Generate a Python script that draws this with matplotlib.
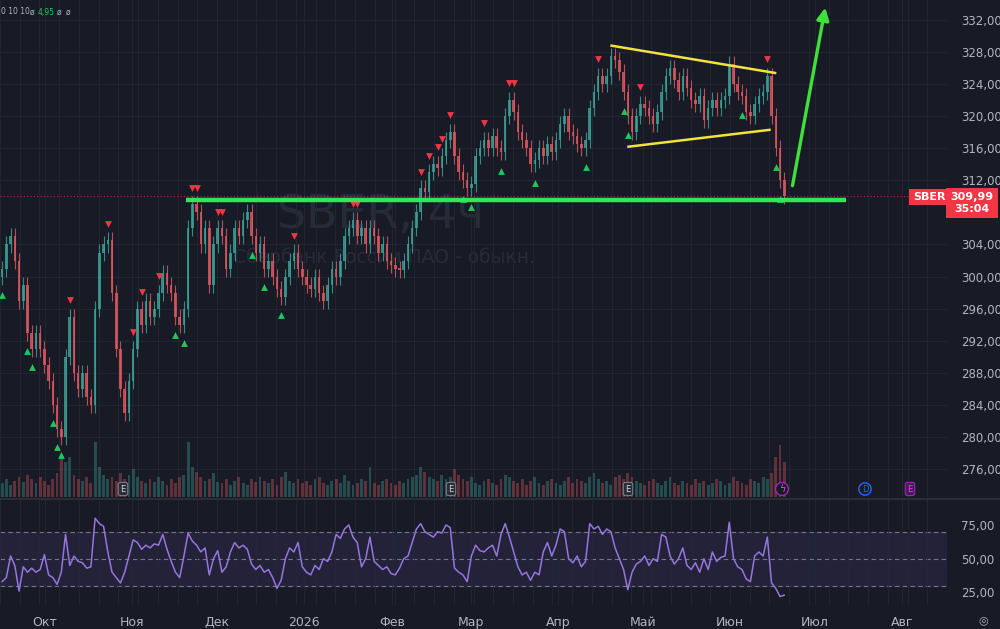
import numpy as np
import matplotlib.pyplot as plt
import matplotlib.dates as mdates
from matplotlib.ticker import FuncFormatter, FixedLocator
from datetime import datetime, timedelta

# SBER 4h chart, read by eye; one candle per 36 h starting 15 Sep 2025
start = datetime(2025, 9, 15, 18)
step_hours = 36

closes = [301, 304, 305, 302, 297, 299, 293, 291, 293, 291,
          289, 287, 284, 281, 280, 290, 295, 288, 286, 288,
          285, 284, 296, 303, 304, 304.5, 298, 291, 286, 283,
          287, 291, 296, 294, 297, 295, 296, 298, 300.5, 299,
          298, 295, 294, 296, 306, 309, 308, 304, 306, 299,
          304, 306, 305, 301, 303, 306, 305, 307, 308, 305,
          303, 304, 301, 302, 300, 298.5, 297.5, 300, 302, 303,
          301, 300, 299, 298.5, 300, 298, 297, 299, 301, 300,
          302, 305, 306, 307, 305, 306, 304, 306, 305, 303,
          304, 302, 301.5, 301, 300.8, 302, 304, 306, 308, 311,
          310.5, 313, 314, 313.5, 315, 317, 318, 315, 313, 312,
          311, 311.5, 315, 316, 317, 316, 317.5, 316, 315.5, 320,
          322, 320.5, 318, 317, 316, 314, 314.5, 316, 315, 316.5,
          315.5, 317, 319, 320, 318, 317.5, 316.5, 316, 317, 321,
          323, 325, 324, 325, 327.5, 327, 325.5, 323, 320, 318,
          320, 321.5, 321, 320, 319, 320.5, 323, 325, 326, 324.5,
          323, 325, 323.5, 322, 321.5, 322.5, 319.5, 321, 322, 321,
          322, 322.5, 326.5, 324, 323, 322.5, 320.5, 320, 321.5, 322.5,
          323, 325, 320, 316, 312, 309.99]
first_open = 300

rsi = [33, 36, 52, 45, 26, 44, 40, 43, 40, 42,
       53, 38, 36, 31, 40, 68, 45, 52, 48, 47,
       43, 44, 80, 76, 74, 55, 40, 36, 32, 40,
       52, 64, 62, 57, 60, 58, 61, 60, 68, 57,
       48, 40, 36, 52, 69, 63, 60, 55, 58, 38,
       50, 56, 40, 44, 55, 62, 58, 60, 57, 46,
       42, 45, 40, 42, 36, 28, 34, 50, 58, 55,
       62, 44, 40, 38, 45, 42, 50, 48, 55, 68,
       65, 72, 75, 66, 62, 44, 50, 66, 48, 45,
       42, 44, 39, 38, 43, 50, 52, 62, 72, 76,
       70, 68, 66, 70, 69, 75, 73, 43, 40, 38,
       33, 52, 60, 56, 55, 58, 60, 52, 68, 76,
       66, 55, 44, 38, 40, 34, 40, 38, 55, 62,
       52, 60, 72, 70, 50, 47, 52, 44, 48, 76,
       72, 74, 68, 72, 70, 58, 50, 42, 27, 40,
       46, 48, 52, 45, 50, 48, 68, 66, 52, 46,
       50, 58, 45, 42, 47, 40, 50, 42, 55, 48,
       51, 52, 77, 50, 44, 42, 35, 33, 52, 55,
       52, 66, 32, 28, 22, 23]

volume = [14, 18, 12, 16, 20, 15, 22, 18, 14, 20,
          16, 12, 18, 24, 38, 35, 40, 22, 18, 16,
          20, 14, 55, 30, 22, 18, 20, 16, 24, 18,
          22, 28, 20, 16, 14, 18, 15, 20, 16, 12,
          18, 14, 20, 22, 55, 30, 25, 20, 16, 18,
          24, 15, 14, 18, 12, 16, 20, 14, 12, 18,
          15, 20, 16, 14, 18, 12, 20, 25, 16, 14,
          18, 14, 16, 12, 18, 20, 14, 12, 16, 18,
          14, 22, 16, 12, 14, 18, 16, 30, 14, 12,
          16, 18, 14, 12, 16, 14, 18, 20, 22, 30,
          25, 20, 18, 16, 22, 18, 20, 28, 22, 18,
          16, 20, 14, 12, 16, 18, 14, 12, 18, 22,
          20, 16, 14, 18, 12, 16, 20, 14, 12, 16,
          18, 14, 12, 16, 20, 14, 18, 16, 14, 20,
          24, 18, 14, 16, 12, 20, 22, 18, 24, 20,
          16, 14, 12, 16, 18, 14, 12, 16, 20, 14,
          12, 16, 14, 12, 18, 14, 16, 12, 14, 18,
          16, 12, 14, 20, 16, 14, 12, 18, 16, 14,
          20, 18, 24, 40, 52, 35]

# signal markers (candle indices)
buy_marks = [0, 6, 7, 12, 13, 14, 41, 43, 59, 62, 66, 109, 111, 118, 126, 138, 147, 148, 175, 183, 184]
sell_marks = [16, 25, 31, 33, 37, 45, 46, 51, 52, 69, 83, 84, 99, 101, 103, 104, 106, 114, 120, 121, 141, 151, 181]

# drawings
support_level = 309.5
support_span = ("2025-11-20", "2026-07-12")
upper_line = [("2026-04-20", 328.8), ("2026-06-17", 325.4)]
lower_line = [("2026-04-26", 316.2), ("2026-06-15", 318.3)]
arrow_from = ("2026-06-23", 311.0)
arrow_to = ("2026-07-05", 333.9)

month_names = ['Янв', 'Фев', 'Мар', 'Апр', 'Май', 'Июн', 'Июл', 'Авг', 'Сен', 'Окт', 'Ноя', 'Дек']
# 308 is hidden behind the last-price tag
price_ticks = [276, 280, 284, 288, 292, 296, 300, 304, 312, 316, 320, 324, 328, 332]
rsi_ticks = [25, 50, 75]

assert len(closes) == len(rsi) == len(volume)

bg = '#181b26'
txt = '#b2b5be'
grid_c = '#232733'
up_c = '#3b9e94'
dn_c = '#d9575f'

n = len(closes)
dates = [start + timedelta(hours=step_hours * i) for i in range(n)]
x = mdates.date2num(dates)
closes = np.array(closes, dtype=float)
opens = np.concatenate([[first_open], closes[:-1]])
highs = np.maximum(opens, closes) + 1.0
lows = np.minimum(opens, closes) - 1.0
up = closes >= opens
cols = np.where(up, up_c, dn_c)

def d(s):
    return mdates.date2num(datetime.strptime(s, "%Y-%m-%d"))

fig = plt.figure(figsize=(10, 6.29), dpi=100, facecolor=bg)
ax = fig.add_axes([0, 1 - 497 / 629, 0.947, 497 / 629], facecolor=bg)
ax_r = fig.add_axes([0, 1 - 605 / 629, 0.947, 105 / 629], facecolor=bg, sharex=ax)

xmin, xmax = d("2025-09-15"), d("2026-08-17")
ax.set_xlim(xmin, xmax)
ax.set_ylim(272.5, 334.5)

# volume
axv = ax.twinx()
axv.set_ylim(0, 497)
axv.bar(x, volume, width=1.0, color=cols, alpha=0.38, zorder=1)
axv.axis('off')

# watermark
ax.text(0.402, 0.567, 'SBER, 4ч', transform=ax.transAxes, fontsize=33, color='#272b38',
        ha='center', va='center', zorder=0)
ax.text(0.405, 0.483, 'Сбербанк России ПАО - обыкн.', transform=ax.transAxes, fontsize=13.5,
        color='#272b38', ha='center', va='center', zorder=0)

# candles
ax.vlines(x, lows, highs, colors=cols, lw=0.8, alpha=0.85, zorder=2)
body_h = np.maximum(np.abs(closes - opens), 0.3)
ax.bar(x, body_h, bottom=np.minimum(opens, closes), width=0.9, color=cols, alpha=0.85, zorder=2)

ax.scatter(x[buy_marks], lows[buy_marks] - 1.3, marker='^', s=24, color='#22c55e', zorder=3, lw=0)
ax.scatter(x[sell_marks], highs[sell_marks] + 1.1, marker='v', s=24, color='#f23645', zorder=3, lw=0)

# drawings
ax.plot([d(support_span[0]), d(support_span[1])], [support_level] * 2, color='#2ee85a', lw=3.2, zorder=4,
        solid_capstyle='butt')
ax.plot([d(p[0]) for p in upper_line], [p[1] for p in upper_line], color='#f2e33a', lw=1.8, zorder=4)
ax.plot([d(p[0]) for p in lower_line], [p[1] for p in lower_line], color='#f2e33a', lw=1.8, zorder=4)
ax.annotate('', xy=(d(arrow_to[0]), arrow_to[1]), xytext=(d(arrow_from[0]), arrow_from[1]),
            arrowprops=dict(arrowstyle='-|>', color='#3fe03a', lw=2.4, mutation_scale=18), zorder=5)
ax.axhline(closes[-1], color='#f23645', lw=0.8, ls=(0, (1, 2)), alpha=0.7, zorder=1)

# grids / axes styling
for a in (ax, ax_r):
    a.xaxis.set_minor_locator(mdates.WeekdayLocator(byweekday=mdates.MO))
    a.xaxis.set_major_locator(mdates.MonthLocator())
    a.grid(which='minor', axis='x', color=grid_c, lw=0.6)
    a.grid(which='major', axis='x', color=grid_c, lw=0.6)
    for s in a.spines.values():
        s.set_visible(False)
    a.tick_params(which='both', length=0, colors=txt, labelsize=8.5)
    a.yaxis.tick_right()

ax.set_axisbelow(True)
ax.yaxis.set_major_locator(FixedLocator(price_ticks))
ax.yaxis.set_major_formatter(FuncFormatter(lambda v, p: f"{v:.2f}".replace('.', ',')))
ax.grid(which='major', axis='y', color=grid_c, lw=0.6)
ax.tick_params(axis='y', pad=10)
ax.tick_params(axis='x', labelbottom=False)

# RSI pane
ax_r.set_ylim(15.7, 93.5)
ax_r.axhspan(30, 70, color='#7e57c2', alpha=0.12, zorder=0)
for lvl in (30, 50, 70):
    ax_r.axhline(lvl, color='#8a8d99', lw=0.8, ls=(0, (4, 3)), alpha=0.8, zorder=1)
ax_r.plot(x, rsi, color='#9575e0', lw=1.1, zorder=3)
ax_r.yaxis.set_major_locator(FixedLocator(rsi_ticks))
ax_r.yaxis.set_major_formatter(FuncFormatter(lambda v, p: f"{v:.2f}".replace('.', ',')))
ax_r.tick_params(axis='y', pad=10)
ax_r.tick_params(axis='x', pad=8)


def month_fmt(v, p):
    dt = mdates.num2date(v)
    if dt.month == 1:
        return str(dt.year)
    return month_names[dt.month - 1]


ax_r.xaxis.set_major_formatter(FuncFormatter(month_fmt))
for lbl in ax_r.get_xticklabels():
    lbl.set_fontsize(9)

# pane separator
fig.add_artist(plt.Line2D([0, 1], [1 - 499 / 629] * 2, color='#2a2e39', lw=1.5))

# header
hy = 1 - 12 / 629
hfs = 5.5
fig.text(0.001, hy, '0 10 10', color=txt, fontsize=hfs, va='center', ha='left')
fig.text(0.0325, hy, 'ø', color=txt, fontsize=hfs, va='center', ha='center')
fig.text(0.038, hy, '4,95', color='#22c55e', fontsize=hfs, va='center', ha='left')
fig.text(0.0595, hy, 'ø', color=txt, fontsize=hfs, va='center', ha='center')
fig.text(0.068, hy, 'ø', color=txt, fontsize=hfs, va='center', ha='center')

# price labels
fig.text(0.929, 1 - 197 / 629, 'SBER', color='white', fontsize=8, fontweight='bold', ha='center', va='center',
         bbox=dict(boxstyle='square,pad=0.3', fc='#f23645', ec='none'))
fig.text(0.972, 1 - 203 / 629, '309,99\n35:04', color='white', fontsize=8, ha='center', va='center',
         linespacing=1.15, fontweight='bold',
         bbox=dict(boxstyle='square,pad=0.4', fc='#f23645', ec='none'))

# event icons
for ex in (123, 451, 628):
    fig.text(ex / 1000, 1 - 489 / 629, 'E', color='#d1d4dc', fontsize=6, ha='center', va='center',
             bbox=dict(boxstyle='round,pad=0.25', fc='#2a2e39', ec='#787b86', lw=0.8))
fig.text(782 / 1000, 1 - 489 / 629, 'ϟ', color='#e040fb', fontsize=7, ha='center', va='center',
         bbox=dict(boxstyle='circle,pad=0.15', fc=bg, ec='#9c27b0', lw=1))
fig.text(865 / 1000, 1 - 489 / 629, 'D', color='#2962ff', fontsize=6, ha='center', va='center',
         bbox=dict(boxstyle='circle,pad=0.2', fc=bg, ec='#2962ff', lw=1))
fig.text(910 / 1000, 1 - 489 / 629, 'E', color='#e040fb', fontsize=6, ha='center', va='center',
         bbox=dict(boxstyle='round,pad=0.25', fc='#4a1a5a', ec='#9c27b0', lw=0.8))
fig.text(983 / 1000, 1 - 620 / 629, '◎', color=txt, fontsize=8, ha='center', va='center')

fig.savefig('out.png', dpi=100, facecolor=bg)
